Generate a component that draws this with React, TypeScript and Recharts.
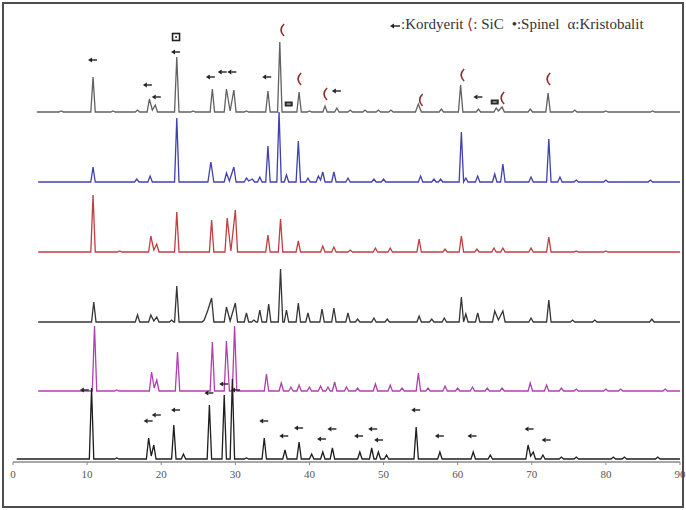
import { ComposedChart, Line, Scatter, XAxis, YAxis } from 'recharts'

// 2θ tick labels
const xTicks = [0, 10, 20, 30, 40, 50, 60, 70, 80, 90]

// each pattern: [2θ, intensity above its own baseline]
const patternA = [
  [3.2, 0], [6.2, 0], [6.5, 1], [6.8, 0], [10.5, 0], [10.8, 35], [11.1, 0], [13.2, 0], [13.5, 1], [13.8, 0],
  [16.5, 0], [16.8, 2], [17.1, 0], [18.1, 0], [18.4, 13], [18.8, 2], [19.2, 7], [19.5, 0], [21.8, 0], [22.1, 55],
  [22.4, 0], [24.0, 0], [24.3, 1], [24.6, 0], [26.6, 0], [26.9, 23], [27.2, 0], [28.5, 0], [28.8, 23], [29.3, 1],
  [29.8, 22], [30.1, 0], [31.2, 0], [31.5, 1], [31.8, 0], [34.1, 0], [34.4, 21], [34.7, 0], [35.7, 0], [36.0, 70],
  [36.3, 0], [38.3, 0], [38.6, 20], [38.9, 0], [39.7, 0], [40.0, 1], [40.3, 0], [41.8, 0], [42.1, 6], [42.4, 0],
  [43.4, 0], [43.7, 4], [44.0, 0], [45.2, 0], [45.5, 2], [45.8, 0], [47.2, 0], [47.5, 2], [47.8, 0], [49.0, 0],
  [49.3, 2], [49.6, 0], [50.7, 0], [51.0, 2], [51.3, 0], [54.3, 0], [54.7, 8], [55.1, 0], [57.5, 0], [57.8, 3],
  [58.1, 0], [60.1, 0], [60.4, 27], [60.7, 0], [62.5, 0], [62.8, 3], [63.1, 0], [64.9, 0], [65.2, 4], [65.5, 1],
  [66.0, 5], [66.3, 0], [69.5, 0], [69.8, 3], [70.1, 0], [71.9, 0], [72.2, 19], [72.5, 0], [75.5, 0], [75.8, 2],
  [76.1, 0], [79.7, 0], [80.0, 1], [80.3, 0], [86.0, 0], [86.3, 1], [86.6, 0], [90, 0]
]

const patternB = [
  [3.4, 0], [10.5, 0], [10.8, 15], [11.1, 0], [16.4, 0], [16.7, 3], [17.0, 0], [18.2, 0], [18.5, 6], [18.8, 0],
  [21.8, 0], [22.1, 64], [22.4, 0], [26.3, 0], [26.7, 20], [27.1, 0], [28.5, 0], [28.8, 9], [29.2, 1], [29.8, 15],
  [30.1, 0], [31.2, 0], [31.5, 4], [31.8, 1], [32.3, 3], [32.6, 0], [33.0, 0], [33.3, 5], [33.6, 0], [34.1, 0],
  [34.4, 36], [34.7, 0], [35.6, 0], [35.9, 70], [36.2, 0], [36.6, 0], [36.9, 7], [37.2, 0], [38.2, 0], [38.5, 41],
  [38.8, 0], [39.5, 0], [39.8, 4], [40.1, 0], [40.9, 0], [41.2, 6], [41.5, 2], [41.8, 10], [42.1, 0], [43.0, 0],
  [43.3, 10], [43.6, 0], [44.9, 0], [45.2, 4], [45.5, 0], [48.4, 0], [48.7, 3], [49.0, 0], [49.7, 0], [50.0, 3],
  [50.3, 0], [54.7, 0], [55.0, 6], [55.3, 0], [56.5, 0], [56.8, 3], [57.1, 0], [57.4, 0], [57.7, 3], [58.0, 0],
  [60.2, 0], [60.5, 50], [60.8, 0], [61.1, 4], [61.4, 0], [62.4, 0], [62.7, 6], [63.0, 0], [64.7, 0], [65.0, 8],
  [65.3, 0], [65.8, 0], [66.1, 18], [66.4, 0], [69.6, 0], [69.9, 5], [70.2, 0], [72.0, 0], [72.3, 43], [72.6, 0],
  [73.5, 0], [73.8, 5], [74.1, 0], [75.7, 0], [76.0, 2], [76.3, 0], [79.7, 0], [80.0, 2], [80.3, 0], [85.7, 0],
  [86.0, 2], [86.3, 0], [90, 0]
]

const patternC = [
  [3.4, 0], [10.5, 0], [10.8, 57], [11.1, 0], [14.1, 0], [14.4, 1], [14.7, 0], [18.3, 0], [18.6, 16], [19.0, 2],
  [19.4, 8], [19.7, 0], [21.8, 0], [22.1, 40], [22.4, 0], [26.5, 0], [26.8, 32], [27.1, 0], [28.6, 0], [28.9, 34],
  [29.4, 1], [30.0, 42], [30.3, 0], [34.1, 0], [34.4, 17], [34.7, 0], [35.8, 0], [36.1, 33], [36.4, 0], [38.2, 0],
  [38.5, 11], [38.8, 0], [41.5, 0], [41.8, 6], [42.1, 0], [43.0, 0], [43.3, 5], [43.6, 0], [45.2, 0], [45.5, 2],
  [45.8, 0], [48.6, 0], [48.9, 4], [49.2, 0], [50.6, 0], [50.9, 4], [51.2, 0], [54.5, 0], [54.8, 13], [55.1, 0],
  [58.0, 0], [58.3, 3], [58.6, 0], [60.2, 0], [60.5, 16], [60.8, 0], [62.3, 0], [62.6, 3], [62.9, 0], [64.6, 0],
  [64.9, 4], [65.2, 0], [65.8, 0], [66.1, 4], [66.4, 0], [69.6, 0], [69.9, 4], [70.2, 0], [72.0, 0], [72.3, 15],
  [72.6, 0], [75.7, 0], [76.0, 1], [76.3, 0], [79.7, 0], [80.0, 1], [80.3, 0], [90, 0]
]

const patternD = [
  [3.4, 0], [10.6, 0], [10.9, 20], [11.2, 0], [16.5, 0], [16.8, 7], [17.1, 0], [18.3, 0], [18.6, 7], [19.0, 1],
  [19.4, 5], [19.7, 0], [21.1, 0], [21.4, 2], [21.7, 0], [21.8, 0], [22.1, 36], [22.4, 0], [25.5, 0], [25.8, 2],
  [26.3, 12], [26.8, 24], [27.1, 0], [28.5, 0], [28.8, 15], [29.3, 1], [30.0, 19], [30.3, 0], [31.2, 0], [31.5, 9],
  [31.8, 0], [32.2, 0], [32.5, 2], [32.8, 0], [33.0, 0], [33.3, 12], [33.6, 0], [34.2, 0], [34.5, 18], [34.8, 0],
  [35.8, 0], [36.1, 53], [36.4, 0], [36.6, 0], [36.9, 12], [37.2, 0], [38.2, 0], [38.5, 19], [38.8, 0], [39.5, 0],
  [39.8, 9], [40.1, 0], [41.4, 0], [41.7, 13], [42.0, 0], [43.0, 0], [43.3, 14], [43.6, 0], [44.9, 0], [45.2, 9],
  [45.5, 0], [46.2, 0], [46.5, 3], [46.8, 0], [48.4, 0], [48.7, 4], [49.0, 0], [50.2, 0], [50.5, 3], [50.8, 0],
  [54.5, 0], [54.8, 6], [55.1, 0], [56.2, 0], [56.5, 3], [56.8, 0], [57.9, 0], [58.2, 4], [58.5, 0], [60.2, 0],
  [60.5, 25], [60.8, 0], [61.1, 8], [61.4, 0], [62.4, 0], [62.7, 9], [63.0, 0], [64.7, 0], [65.0, 11], [65.5, 2],
  [66.1, 11], [66.4, 0], [69.6, 0], [69.9, 4], [70.2, 0], [72.0, 0], [72.3, 22], [72.6, 0], [75.2, 0], [75.5, 2],
  [75.8, 0], [78.2, 0], [78.5, 2], [78.8, 0], [85.9, 0], [86.2, 3], [86.5, 0], [90, 0]
]

const patternE = [
  [3.4, 0], [10.7, 0], [11.0, 65], [11.3, 0], [13.7, 0], [14.0, 1], [14.3, 0], [18.4, 0], [18.7, 19], [19.05, 3],
  [19.4, 11], [19.7, 0], [21.9, 0], [22.2, 39], [22.5, 0], [26.6, 0], [26.9, 49], [27.2, 0], [28.5, 0], [28.8, 50],
  [29.2, 0], [29.6, 0], [29.9, 65], [30.2, 0], [33.9, 0], [34.2, 17], [34.5, 0], [35.9, 0], [36.2, 8], [36.5, 0],
  [37.2, 0], [37.5, 4], [37.8, 0], [38.3, 0], [38.6, 6], [38.9, 0], [39.7, 0], [40.0, 4], [40.3, 0], [41.2, 0],
  [41.5, 5], [41.8, 0], [42.2, 0], [42.5, 4], [42.8, 0], [43.1, 0], [43.4, 9], [43.7, 0], [44.7, 0], [45.0, 4],
  [45.3, 0], [46.2, 0], [46.5, 3], [46.8, 0], [48.6, 0], [48.9, 7], [49.2, 0], [50.6, 0], [50.9, 6], [51.2, 0],
  [52.2, 0], [52.5, 3], [52.8, 0], [54.4, 0], [54.7, 18], [55.0, 0], [55.7, 0], [56.0, 3], [56.3, 0], [58.0, 0],
  [58.3, 5], [58.6, 0], [59.7, 0], [60.0, 3], [60.3, 0], [61.7, 0], [62.0, 4], [62.3, 0], [63.7, 0], [64.0, 3],
  [64.3, 0], [65.7, 0], [66.0, 3], [66.3, 0], [69.5, 0], [69.8, 8], [70.1, 0], [71.7, 0], [72.0, 6], [72.3, 0],
  [73.7, 0], [74.0, 3], [74.3, 0], [75.7, 0], [76.0, 2], [76.3, 0], [79.7, 0], [80.0, 2], [80.3, 0], [81.7, 0],
  [82.0, 2], [82.3, 0], [87.7, 0], [88.0, 2], [88.3, 0], [90, 0]
]

const patternF = [
  [0.5, 0], [10.3, 0], [10.6, 71], [10.9, 0], [13.7, 0], [14.0, 1], [14.3, 0], [18.0, 0], [18.3, 21], [18.65, 3],
  [19.0, 14], [19.3, 0], [21.4, 0], [21.7, 34], [22.0, 0], [22.7, 0], [23.0, 5], [23.3, 0], [26.2, 0], [26.5, 54],
  [26.8, 0], [28.2, 0], [28.5, 64], [28.8, 0], [29.3, 0], [29.6, 80], [29.9, 0], [31.2, 0], [31.5, 1], [31.8, 0],
  [33.6, 0], [33.9, 21], [34.2, 0], [36.4, 0], [36.7, 9], [37.0, 0], [38.3, 0], [38.6, 17], [38.9, 0], [40.0, 0],
  [40.3, 5], [40.6, 0], [41.5, 0], [41.8, 7], [42.1, 0], [42.8, 0], [43.1, 11], [43.4, 0], [46.5, 0], [46.8, 7],
  [47.1, 0], [48.1, 0], [48.4, 11], [48.7, 0], [49.0, 0], [49.3, 7], [49.6, 0], [50.1, 0], [50.4, 4], [50.7, 0],
  [54.1, 0], [54.4, 32], [54.7, 0], [57.3, 0], [57.6, 7], [57.9, 0], [61.8, 0], [62.1, 7], [62.4, 0], [64.1, 0],
  [64.4, 4], [64.7, 0], [69.2, 0], [69.5, 14], [69.85, 3], [70.2, 7], [70.5, 0], [71.2, 0], [71.5, 4], [71.8, 0],
  [73.7, 0], [74.0, 2], [74.3, 0], [75.7, 0], [76.0, 2], [76.3, 0], [80.7, 0], [81.0, 2], [81.3, 0], [82.2, 0],
  [82.5, 2], [82.8, 0], [86.7, 0], [87.0, 2], [87.3, 0], [90, 0]
]

// vertical stacking of the six patterns (top to bottom)
const patterns = [patternA, patternB, patternC, patternD, patternE, patternF]
const offsets = [350, 280, 210, 140, 71, 3]
const lineColors = ['#626262', '#4040b0', '#c23e43', '#363636', '#b040b0', '#1e1e1e']

// phase markers: [2θ, intensity level]
const kordiyeritMarks = [
  [10.8, 402], [18.2, 377], [19.4, 365], [22.0, 410], [26.7, 385], [28.3, 390], [29.6, 390], [34.3, 385],
  [43.7, 371], [62.8, 365],
  [9.7, 72], [18.3, 41], [19.4, 47], [22.0, 52], [26.5, 69], [28.5, 78], [30.1, 72], [33.9, 41], [36.6, 26],
  [38.6, 34], [41.7, 23], [43.1, 33], [46.7, 26], [48.6, 33], [49.4, 22], [54.4, 52], [57.6, 26], [62.0, 26],
  [69.7, 33], [72.0, 22]
]
const sicMarks = [[36.3, 432], [38.6, 383], [42.1, 368], [55.0, 362], [60.6, 387], [66.0, 364], [72.2, 383]]
const spinelMarks = [[37.2, 358], [65.0, 360]]
const kristobalitMarks = [[22.0, 425]]

const toRows = (pts: number[][], off = 0) => pts.map(([x, h]) => ({ x, y: h + off }))

const ArrowMark = (p: any) => {
  const { cx, cy } = p
  return (
    <g>
      <path d={`M${cx - 5},${cy} L${cx - 1},${cy - 2.5} L${cx - 1},${cy + 2.5} Z`} fill='#222' />
      <line x1={cx - 1} y1={cy} x2={cx + 4} y2={cy} stroke='#222' strokeWidth={1.4} />
    </g>
  )
}

const SicMark = (p: any) => {
  const { cx, cy } = p
  return (
    <path
      d={`M${cx + 2},${cy - 6} Q${cx - 4},${cy} ${cx + 2},${cy + 6}`}
      fill='none'
      stroke='#8e2a2a'
      strokeWidth={1.6}
    />
  )
}

const SpinelMark = (p: any) => {
  const { cx, cy } = p
  return (
    <g>
      <rect x={cx - 4} y={cy - 2.5} width={8} height={5} fill='#2a2a2a' />
      <line x1={cx - 2} y1={cy} x2={cx + 2} y2={cy} stroke='#ddd' strokeWidth={1} />
    </g>
  )
}

const KristobalitMark = (p: any) => {
  const { cx, cy } = p
  return (
    <g>
      <rect x={cx - 3.5} y={cy - 3.5} width={7} height={7} fill='none' stroke='#222' strokeWidth={1.6} />
      <circle cx={cx} cy={cy} r={1} fill='#222' />
    </g>
  )
}

export default function App() {
  return (
    <div style={{ position: 'absolute', left: 0, top: 0, width: 686, height: 510, background: '#fff', overflow: 'hidden' }}>
      <ComposedChart width={686} height={510} margin={{ top: 12, right: 6, left: 13, bottom: 18 }}>
        <XAxis
          type='number'
          dataKey='x'
          domain={[0, 90]}
          ticks={xTicks}
          interval={0}
          allowDataOverflow
          height={30}
          tickSize={3}
          tickMargin={5}
          axisLine={{ stroke: '#8a8a8a', strokeWidth: 1.5 }}
          tickLine={{ stroke: '#8a8a8a' }}
          tick={{ fill: '#555', fontSize: 11, fontFamily: 'Liberation Serif' }}
        />
        <YAxis type='number' dataKey='y' domain={[0, 450]} hide allowDataOverflow />
        {patterns.map((pts, i) => (
          <Line
            key={i}
            data={toRows(pts, offsets[i])}
            dataKey='y'
            type='linear'
            stroke={lineColors[i]}
            strokeWidth={1.3}
            dot={false}
            activeDot={false}
            isAnimationActive={false}
          />
        ))}
        <Scatter data={toRows(kordiyeritMarks)} dataKey='y' shape={ArrowMark} isAnimationActive={false} />
        <Scatter data={toRows(sicMarks)} dataKey='y' shape={SicMark} isAnimationActive={false} />
        <Scatter data={toRows(spinelMarks)} dataKey='y' shape={SpinelMark} isAnimationActive={false} />
        <Scatter data={toRows(kristobalitMarks)} dataKey='y' shape={KristobalitMark} isAnimationActive={false} />
      </ComposedChart>

      {/* legend */}
      <div style={{ position: 'absolute', left: 390, top: 15, fontFamily: 'Liberation Serif', fontSize: 15, color: '#333', whiteSpace: 'nowrap' }}>
        <svg width={11} height={8} style={{ verticalAlign: 'middle' }}>
          <path d='M0,4 L4,1.5 L4,6.5 Z' fill='#222' />
          <line x1={4} y1={4} x2={10} y2={4} stroke='#222' strokeWidth={1.4} />
        </svg>
        :Kordyerit <span style={{ color: '#8e2a2a' }}>⟨</span>: SiC
        <span style={{ marginLeft: 8 }}>•:Spinel</span>
        <span style={{ marginLeft: 8 }}>α:Kristobalit</span>
      </div>

      {/* frame */}
      <div style={{ position: 'absolute', left: 2, top: 2, width: 682, height: 506, boxSizing: 'border-box', border: '2px solid #4d4d4d', pointerEvents: 'none' }} />
    </div>
  )
}
